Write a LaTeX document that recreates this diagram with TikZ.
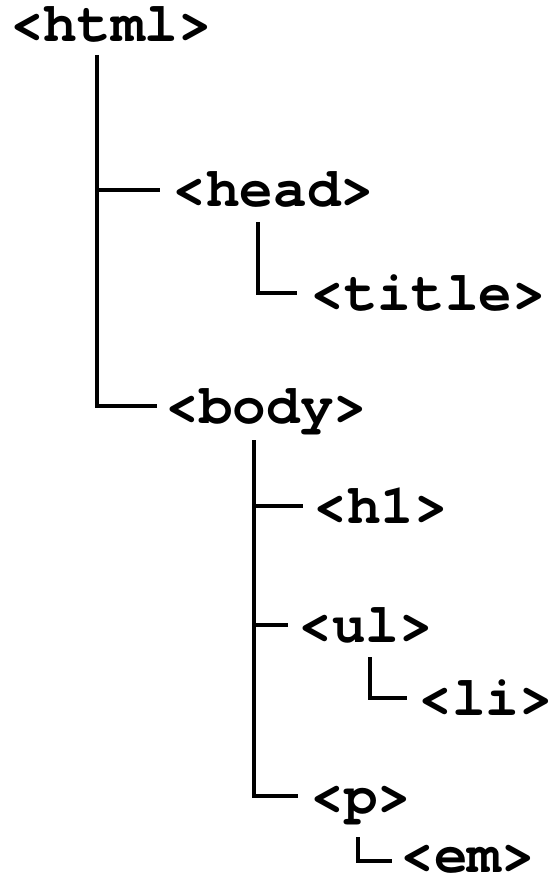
\documentclass[tikz,border=0pt]{standalone}
\usepackage{fontspec}
\setmonofont{texgyrecursor}[Extension=.otf, UprightFont=*-regular, BoldFont=*-bold]
\begin{document}
\begin{tikzpicture}[x=1pt,y=-1pt,
  tag/.style={anchor=base west, inner sep=0pt, text height=34pt, text depth=0pt,
    font=\fontsize{56}{60}\selectfont\ttfamily\bfseries},
  conn/.style={line width=4.6pt, line join=miter, black}]
\useasboundingbox (0,0) rectangle (553,882);

% element names
\node[tag] (html)  at (10,42)    {<html>};
\node[tag] (head)  at (172.5,207) {<head>};
\node[tag] (title) at (310.5,310) {<title>};
\node[tag] (body)  at (165.5,423) {<body>};
\node[tag] (h1)    at (313.5,523) {<h1>};
\node[tag] (ul)    at (298.5,642) {<ul>};
\node[tag] (li)    at (418.5,715) {<li>};
\node[tag] (p)     at (310.5,813) {<p>};
\node[tag] (em)    at (400.5,872) {<em>};

% tops of the vertical stems
\coordinate (htmlstem) at (97,55);
\coordinate (headstem) at (258,222);
\coordinate (bodystem) at (254,440);
\coordinate (ulstem)   at (370,657);
\coordinate (pstem)    at (358,837);

% html children
\draw[conn] (htmlstem) |- ([xshift=-8.5pt]body.west);
\draw[conn] (htmlstem |- head.west) -- ([xshift=-12.5pt]head.west);
% head child
\draw[conn] (headstem) |- ([xshift=-13.5pt]title.west);
% body children
\draw[conn] (bodystem) |- ([xshift=-12.5pt]p.west);
\draw[conn] (bodystem |- h1.west) -- ([xshift=-10.5pt]h1.west);
\draw[conn] (bodystem |- ul.west) -- ([xshift=-10.5pt]ul.west);
% ul child
\draw[conn] (ulstem) |- ([xshift=-11.5pt]li.west);
% p child
\draw[conn, line width=4pt] (pstem) |- ([xshift=-8.5pt, yshift=-6pt]em.west);
\end{tikzpicture}
\end{document}
